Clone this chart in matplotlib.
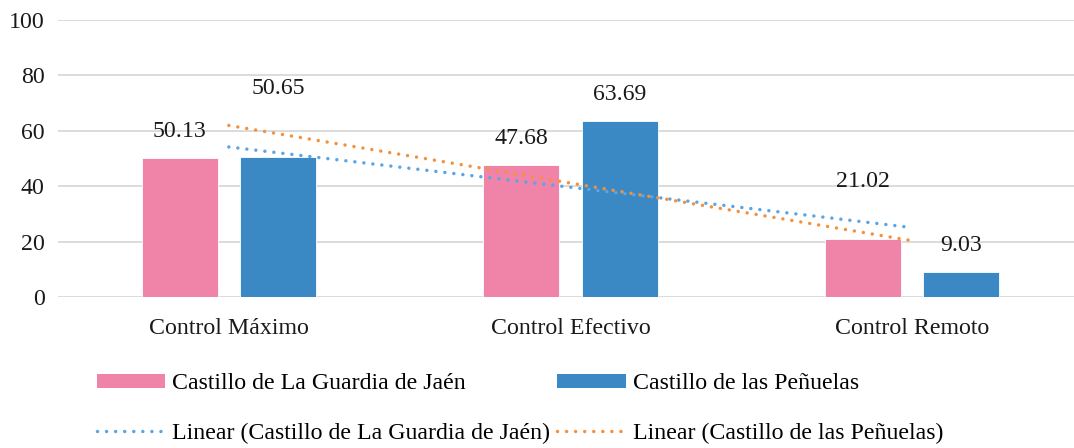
import numpy as np
import matplotlib
matplotlib.use("Agg")
import matplotlib.pyplot as plt
from matplotlib.patches import Patch
from matplotlib.lines import Line2D

categories = ["Control Máximo", "Control Efectivo", "Control Remoto"]
series_names = ["Castillo de La Guardia de Jaén", "Castillo de las Peñuelas"]
guardia = [50.13, 47.68, 21.02]
penuelas = [50.65, 63.69, 9.03]
yticks = [0, 20, 40, 60, 80, 100]

plt.rcParams['font.family'] = ['Liberation Serif', 'DejaVu Serif']
FS = 17.2

bar_colors = ["#F083A8", "#3A88C4"]
trend_colors = ["#5AA5E3", "#F5913D"]
DOT = (0, (0.01, 2.6))
LW = 2.5

fig = plt.figure(figsize=(10.74, 4.48), dpi=100)
ax = fig.add_axes([58/1074, 151/448, 1025/1074, 277/448])

x = np.arange(len(categories))
w = 0.2225
off = 0.1435
series = [guardia, penuelas]
# label offsets in points above bar tops
label_offsets = [[19, 19, 41], [49, 19, 19]]
for i, (vals, col) in enumerate(zip(series, bar_colors)):
    xs = x + (-off if i == 0 else off)
    ax.bar(xs, vals, width=w, color=col, edgecolor="white", linewidth=0.6, zorder=2)
    for xi, v, o in zip(xs, vals, label_offsets[i]):
        ax.annotate(f"{v:.2f}", (xi, v), xytext=(0, o), textcoords="offset points",
                    ha="center", va="center", fontsize=FS, color="#1a1a1a")

for vals, col in zip(series, trend_colors):
    k, b = np.polyfit(x, vals, 1)
    ax.plot(x, k * x + b, linestyle=DOT, dash_capstyle="round",
            color=col, linewidth=LW, zorder=3)

ax.set_xlim(-0.5, 2.5)
ax.set_ylim(0, 100)
ax.set_yticks(yticks)
ax.set_xticks(x)
ax.set_xticklabels(categories, fontsize=FS, color="#1a1a1a")
ax.tick_params(axis="y", labelsize=FS, labelcolor="#1a1a1a", length=0, pad=9.5)
ax.tick_params(axis="x", length=0, pad=15)
ax.yaxis.grid(True, color="#d9d9d9", linewidth=1.3, zorder=0)
ax.set_axisbelow(True)
for s in ax.spines.values():
    s.set_visible(False)

handles = [
    Patch(facecolor=bar_colors[0]),
    Line2D([0], [0], color=trend_colors[0], linestyle=DOT, linewidth=LW, dash_capstyle="round"),
    Patch(facecolor=bar_colors[1]),
    Line2D([0], [0], color=trend_colors[1], linestyle=DOT, linewidth=LW, dash_capstyle="round"),
]
labels = [series_names[0], f"Linear ({series_names[0]})",
          series_names[1], f"Linear ({series_names[1]})"]
fig.legend(handles, labels, ncol=2, loc="center left",
           bbox_to_anchor=(97/1074, 1 - 408.5/448), frameon=False, fontsize=FS,
           handlelength=2.85, handleheight=0.5, handletextpad=0.3,
           columnspacing=0.3, labelspacing=1.18, borderaxespad=0, borderpad=0)

fig.savefig("out.png", dpi=100)
